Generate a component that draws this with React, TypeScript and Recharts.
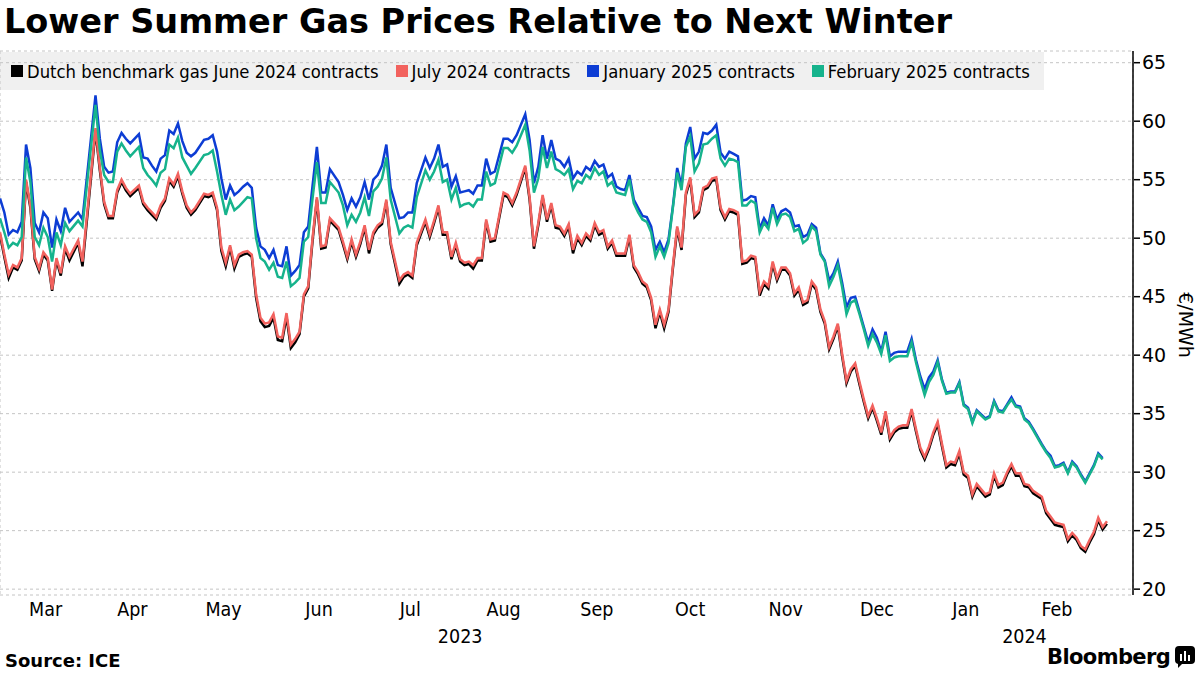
import { LineChart, Line, XAxis, YAxis, CartesianGrid } from 'recharts';

// trading-day index since 3 Mar 2023
const days = [
  0, 1, 2, 3, 4, 5, 6, 7, 8, 9,
  10, 11, 12, 13, 14, 15, 16, 18, 19, 22,
  23, 24, 25, 26, 27, 28, 29, 30, 32, 33,
  34, 35, 36, 37, 38, 39, 40, 41, 42, 43,
  44, 45, 47, 48, 49, 50, 51, 52, 53, 54,
  55, 56, 57, 58, 59, 60, 61, 62, 63, 64,
  65, 66, 67, 68, 69, 70, 71, 72, 73, 74,
  75, 76, 78, 79, 80, 81, 82, 83, 84, 85,
  86, 87, 88, 89, 90, 92, 93, 94, 95, 96,
  98, 99, 100, 101, 102, 103, 104, 105, 106, 107,
  108, 109, 110, 111, 112, 113, 114, 116, 117, 118,
  119, 121, 122, 123, 124, 125, 126, 127, 128, 129,
  130, 131, 132, 133, 134, 135, 136, 137, 138, 139,
  140, 141, 142, 143, 144, 145, 146, 147, 148, 149,
  150, 151, 152, 153, 154, 155, 156, 157, 158, 159,
  160, 161, 162, 163, 164, 165, 166, 167, 168, 169,
  170, 171, 172, 173, 174, 175, 176, 177, 178, 179,
  180, 181, 182, 183, 184, 185, 186, 187, 188, 189,
  190, 191, 192, 193, 194, 195, 196, 197, 198, 199,
  200, 201, 202, 203, 204, 205, 206, 207, 208, 209,
  210, 211, 212, 213, 214, 215, 216, 217, 218, 219,
  220, 221, 222, 223, 224, 225, 227, 228, 229, 230,
  231, 232, 233, 234, 235, 236, 237, 238, 240, 241,
  242, 243, 244, 245, 246, 247, 248, 249, 250, 251,
  252, 253, 254, 255,
];

const june24 = [
  50.3, 48.4, 46.6, 47.5, 47.3, 48.1, 54.8, 52.6, 48.2, 47.2,
  48.6, 48.1, 45.5, 48.1, 46.8, 49.1, 48.1, 49.6, 47.6, 59.2,
  55.8, 52.9, 51.7, 51.7, 53.9, 54.8, 54.1, 53.6, 54.3, 52.9,
  52.4, 52.0, 51.6, 52.6, 53.2, 54.9, 54.4, 55.3, 53.8, 52.6,
  52.0, 52.4, 53.6, 53.5, 53.7, 52.4, 48.9, 47.6, 49.2, 47.4,
  48.4, 48.6, 48.7, 48.4, 44.9, 42.9, 42.4, 42.5, 43.2, 41.3,
  41.2, 43.3, 40.6, 41.1, 41.8, 45.0, 45.7, 49.8, 53.3, 49.1,
  49.2, 51.5, 50.7, 49.5, 48.2, 49.7, 48.4, 49.5, 50.9, 48.7,
  50.3, 50.9, 51.2, 53.1, 49.5, 46.1, 46.7, 46.9, 46.6, 49.4,
  51.4, 50.1, 51.3, 52.6, 50.3, 50.3, 48.2, 49.4, 48.0, 47.7,
  47.8, 47.4, 48.1, 48.1, 51.4, 49.7, 49.8, 53.7, 53.5, 52.8,
  53.7, 56.0, 53.3, 49.1, 51.1, 53.5, 51.4, 52.8, 50.9, 50.8,
  50.2, 51.0, 48.7, 50.0, 49.4, 50.2, 49.8, 51.1, 50.3, 50.5,
  49.1, 49.6, 48.5, 48.5, 48.5, 50.1, 47.5, 46.9, 46.1, 45.8,
  44.7, 42.3, 43.7, 42.3, 43.7, 47.4, 50.8, 49.0, 53.7, 55.0,
  51.8, 52.2, 54.1, 54.3, 54.9, 55.0, 52.4, 51.6, 52.3, 52.2,
  52.0, 47.8, 47.9, 48.3, 48.2, 45.1, 46.1, 45.7, 47.8, 46.4,
  47.3, 47.3, 46.8, 45.1, 45.6, 44.3, 44.5, 46.1, 45.6, 43.7,
  42.7, 40.5, 41.4, 42.5, 39.9, 37.6, 38.6, 39.1, 37.5, 36.0,
  34.6, 35.5, 34.4, 33.2, 35.0, 32.8, 33.4, 33.7, 33.8, 33.8,
  35.2, 33.5, 31.9, 31.1, 32.0, 33.2, 34.1, 32.2, 30.4, 30.7,
  30.6, 31.6, 29.8, 29.5, 27.9, 28.8, 27.9, 28.1, 29.7, 28.7,
  28.9, 29.8, 30.5, 29.7, 29.7, 28.8, 28.7, 28.2, 27.7, 26.5,
  26.0, 25.5, 25.4, 25.3, 24.1, 24.6, 24.2, 23.5, 23.2, 24.0,
  24.7, 25.9, 25.1, 25.6,
];

const july24 = [
  50.5, 48.6, 46.9, 47.7, 47.5, 48.3, 55.0, 52.8, 48.4, 47.4,
  48.8, 48.3, 45.6, 48.3, 47.0, 49.3, 48.4, 49.8, 48.0, 59.4,
  56.0, 53.1, 51.9, 51.9, 54.1, 55.0, 54.3, 53.8, 54.5, 53.1,
  52.6, 52.2, 51.8, 52.8, 53.4, 55.1, 54.6, 55.5, 54.0, 52.8,
  52.2, 52.6, 53.8, 53.7, 53.9, 52.6, 49.2, 47.9, 49.4, 47.7,
  48.6, 48.8, 48.9, 48.6, 45.2, 43.2, 42.7, 42.8, 43.5, 41.6,
  41.5, 43.6, 40.9, 41.4, 42.0, 45.2, 45.9, 50.0, 53.5, 49.3,
  49.4, 51.7, 50.9, 49.7, 48.4, 49.9, 48.6, 49.7, 51.1, 49.0,
  50.5, 51.1, 51.4, 53.3, 49.7, 46.4, 46.9, 47.1, 46.8, 49.6,
  51.6, 50.3, 51.5, 52.8, 50.5, 50.5, 48.4, 49.6, 48.2, 47.9,
  48.0, 47.7, 48.3, 48.3, 51.6, 49.9, 50.0, 53.9, 53.7, 53.0,
  53.9, 56.2, 53.5, 49.3, 51.3, 53.7, 51.6, 53.0, 51.1, 51.0,
  50.4, 51.2, 49.0, 50.2, 49.6, 50.4, 50.0, 51.3, 50.5, 50.7,
  49.3, 49.8, 48.7, 48.7, 48.7, 50.3, 47.7, 47.1, 46.3, 46.0,
  44.9, 42.6, 43.9, 42.6, 43.9, 47.6, 51.0, 49.2, 53.9, 55.2,
  52.0, 52.4, 54.3, 54.5, 55.1, 55.2, 52.6, 51.8, 52.5, 52.4,
  52.2, 48.0, 48.1, 48.5, 48.4, 45.4, 46.3, 45.9, 48.0, 46.6,
  47.5, 47.5, 47.0, 45.3, 45.8, 44.5, 44.7, 46.3, 45.8, 43.9,
  42.9, 40.7, 41.6, 42.7, 40.1, 37.8, 38.8, 39.3, 37.7, 36.2,
  34.8, 35.7, 34.6, 33.4, 35.2, 33.0, 33.6, 33.9, 34.0, 34.0,
  35.4, 33.7, 32.1, 31.3, 32.2, 33.4, 34.3, 32.4, 30.6, 30.9,
  30.8, 31.8, 30.0, 29.7, 28.1, 29.0, 28.1, 28.3, 29.9, 28.9,
  29.1, 30.0, 30.7, 29.9, 29.9, 29.0, 28.9, 28.4, 27.9, 26.7,
  26.2, 25.7, 25.6, 25.5, 24.3, 24.8, 24.4, 23.7, 23.4, 24.2,
  24.9, 26.1, 25.3, 25.8,
];

const jan25 = [
  53.4, 52.2, 50.3, 50.7, 50.5, 51.4, 58.0, 56.0, 51.3, 50.5,
  52.2, 51.7, 49.2, 51.6, 50.6, 52.6, 51.4, 52.2, 51.6, 62.2,
  58.5, 56.1, 55.6, 55.7, 58.2, 59.0, 58.5, 58.1, 58.9, 56.9,
  56.8, 56.2, 55.7, 56.8, 57.1, 59.2, 58.9, 59.8, 58.3, 57.3,
  57.0, 57.3, 58.4, 58.5, 58.8, 57.4, 55.1, 53.3, 54.5, 53.7,
  54.0, 54.4, 54.7, 54.3, 50.9, 49.3, 49.0, 48.3, 49.0, 47.7,
  47.6, 49.3, 46.8, 47.2, 47.7, 50.5, 51.0, 54.5, 57.8, 53.9,
  53.9, 55.9, 54.8, 53.7, 52.4, 53.4, 52.7, 53.5, 54.8, 53.3,
  55.0, 55.4, 56.2, 58.0, 54.3, 51.7, 51.8, 52.2, 52.2, 54.7,
  56.9, 56.0, 56.8, 58.0, 56.1, 56.3, 54.4, 55.3, 53.9, 54.0,
  54.1, 53.8, 54.5, 54.5, 56.8, 55.5, 55.7, 58.5, 58.5, 58.2,
  58.8, 60.6, 58.4, 54.7, 56.1, 58.8, 56.8, 58.4, 56.8, 56.6,
  56.1, 56.8, 55.1, 55.7, 55.4, 56.1, 55.8, 56.6, 56.1, 56.3,
  55.2, 55.5, 54.4, 54.2, 54.1, 55.4, 53.3, 52.6, 51.9, 51.8,
  51.0, 49.0, 49.7, 48.8, 49.9, 52.7, 56.0, 54.5, 58.1, 59.5,
  56.8, 57.4, 59.0, 58.9, 59.2, 59.7, 57.3, 56.8, 57.4, 57.2,
  57.0, 53.2, 53.3, 53.6, 53.5, 50.8, 51.7, 51.1, 52.9, 51.6,
  52.3, 52.5, 52.2, 51.0, 51.1, 50.1, 50.3, 51.2, 50.9, 48.7,
  48.1, 46.4, 47.0, 48.0, 46.2, 44.1, 44.9, 45.0, 43.7, 42.4,
  41.1, 42.2, 41.5, 40.3, 42.0, 39.9, 40.2, 40.3, 40.3, 40.3,
  41.4, 39.6, 38.2, 37.1, 38.1, 38.6, 39.6, 37.9, 36.8, 36.9,
  36.9, 37.7, 35.8, 35.5, 34.3, 35.3, 34.6, 34.8, 36.1, 35.3,
  35.2, 35.8, 36.4, 35.7, 35.6, 34.6, 34.3, 33.7, 32.4, 31.8,
  31.4, 30.5, 30.6, 30.8, 30.0, 30.9, 30.5, 29.8, 29.2, 29.9,
  30.6, 31.6, 31.2, null,
];

const feb25 = [
  51.7, 50.5, 49.2, 49.6, 49.4, 50.1, 56.9, 54.8, 50.1, 49.4,
  50.9, 50.1, 48.0, 50.5, 49.4, 51.3, 50.6, 51.5, 51.0, 61.4,
  57.5, 55.4, 54.8, 54.8, 57.4, 58.1, 57.5, 57.0, 57.8, 56.0,
  55.4, 55.0, 54.5, 55.6, 55.9, 58.0, 57.7, 58.6, 56.9, 56.2,
  55.5, 56.0, 57.1, 57.2, 57.5, 55.7, 53.7, 52.0, 53.3, 52.4,
  52.7, 53.1, 53.5, 53.4, 50.0, 48.3, 48.0, 47.3, 47.9, 46.7,
  46.6, 48.0, 45.9, 46.2, 46.6, 49.7, 50.1, 53.4, 56.5, 53.0,
  53.0, 54.8, 53.9, 52.8, 51.1, 52.0, 51.4, 52.2, 53.5, 51.9,
  54.0, 54.4, 55.1, 56.9, 53.3, 50.4, 50.9, 51.1, 50.9, 53.5,
  55.8, 55.0, 55.7, 56.7, 54.8, 55.0, 53.3, 54.3, 52.7, 52.9,
  53.0, 52.7, 53.3, 53.3, 55.7, 54.5, 54.7, 57.7, 57.7, 57.3,
  57.9, 59.7, 57.5, 53.9, 55.1, 57.8, 56.0, 57.4, 55.9, 55.7,
  55.4, 55.9, 54.2, 54.9, 54.7, 55.4, 55.1, 56.0, 55.4, 55.7,
  54.5, 54.8, 53.9, 53.8, 53.7, 55.0, 53.0, 52.2, 51.6, 51.4,
  50.5, 48.4, 49.3, 48.4, 49.6, 52.6, 55.6, 54.1, 57.8, 58.7,
  55.7, 56.4, 58.0, 58.1, 58.5, 58.8, 56.8, 56.2, 56.8, 56.7,
  56.5, 52.8, 52.8, 53.2, 53.0, 50.5, 51.3, 50.8, 52.6, 51.2,
  52.0, 52.1, 51.8, 50.6, 50.8, 49.6, 49.9, 51.0, 50.6, 48.6,
  48.0, 45.9, 46.7, 47.7, 45.8, 43.5, 44.5, 44.7, 43.5, 42.2,
  40.8, 41.8, 41.1, 40.1, 41.7, 39.5, 39.8, 39.9, 39.9, 39.9,
  41.1, 39.4, 37.9, 36.6, 37.7, 38.3, 39.4, 37.8, 36.7, 36.8,
  36.8, 37.6, 35.7, 35.4, 34.2, 35.2, 34.5, 34.7, 36.0, 35.2,
  35.1, 35.7, 36.2, 35.6, 35.5, 34.5, 34.2, 33.6, 32.3, 31.7,
  31.2, 30.4, 30.5, 30.7, 29.9, 30.8, 30.4, 29.7, 29.1, 29.8,
  30.5, 31.5, 31.1, null,
];

// first trading day of each month, Apr 2023 .. Mar 2024
const monthStarts = [21, 40, 63, 84, 105, 127, 148, 170, 192, 212, 233, 254];
const monthNames = ['Mar', 'Apr', 'May', 'Jun', 'Jul', 'Aug', 'Sep', 'Oct', 'Nov', 'Dec', 'Jan', 'Feb'];
const yearLabels = ['2023', '2024'];
const yearAt = [106, 236];

const yTicks = [20, 25, 30, 35, 40, 45, 50, 55, 60, 65];
const yMinor = [22.5, 27.5, 32.5, 37.5, 42.5, 47.5, 52.5, 57.5, 62.5];

const SERIES = [
  { key: 'june', name: 'Dutch benchmark gas June 2024 contracts', color: '#000000' },
  { key: 'july', name: 'July 2024 contracts', color: '#F2625E' },
  { key: 'jan', name: 'January 2025 contracts', color: '#0D3DD4' },
  { key: 'feb', name: 'February 2025 contracts', color: '#16B38C' },
];

const FONT = '"DejaVu Sans", "Noto Sans", sans-serif';

const rows = days.map((d, k) => ({
  d,
  june: june24[k],
  july: july24[k],
  jan: jan25[k],
  feb: feb25[k],
}));

const starts = [0, ...monthStarts];
const monthMid = monthNames.map((_, k) => (starts[k] + starts[k + 1]) / 2);
const labelTicks = [...monthMid, ...yearAt];

function TimeTick(props: any) {
  const { x, y, payload } = props;
  const v = payload.value;
  const yi = yearAt.indexOf(v);
  const common = {
    x,
    textAnchor: 'middle' as const,
    fontSize: 19.5,
    fill: '#000',
    fontFamily: FONT,
    style: { fontStretch: 'condensed' },
  };
  if (yi >= 0) {
    return <text {...common} y={y + 40}>{yearLabels[yi]}</text>;
  }
  return <text {...common} y={y + 13}>{monthNames[monthMid.indexOf(v)]}</text>;
}

function LegendBox() {
  return (
    <div
      style={{
        position: 'absolute',
        left: 0,
        top: 52,
        width: 1044,
        height: 38,
        background: '#f0f0f0',
        display: 'flex',
        alignItems: 'center',
        paddingLeft: 11,
        boxSizing: 'border-box',
        gap: 17,
        fontFamily: FONT,
        fontStretch: 'condensed',
        fontSize: 18.3,
        color: '#000',
      }}
    >
      {SERIES.map((s) => (
        <div key={s.key} style={{ display: 'flex', alignItems: 'center', gap: 4 }}>
          <div style={{ width: 12, height: 12, background: s.color }} />
          <span>{s.name}</span>
        </div>
      ))}
    </div>
  );
}

export default function App() {
  return (
    <div style={{ position: 'relative', width: 1200, height: 675, background: '#fff', overflow: 'hidden' }}>
      <style>{'body{margin:0}'}</style>
      <div
        style={{
          position: 'absolute',
          left: 4,
          top: 2,
          fontFamily: FONT,
          fontWeight: 'bold',
          fontSize: 33.5,
          color: '#000',
          whiteSpace: 'nowrap',
        }}
      >
        Lower Summer Gas Prices Relative to Next Winter
      </div>
      <LegendBox />
      <div style={{ position: 'absolute', left: 0, top: 0 }}>
        <LineChart width={1200} height={675} data={rows} margin={{ top: 51, right: 0, bottom: 0, left: 0 }}>
          <CartesianGrid xAxisId="grid" yAxisId="val" stroke="#c4c4c4" strokeDasharray="3 3" />
          <XAxis
            xAxisId="grid"
            dataKey="d"
            type="number"
            domain={[0, 261]}
            ticks={monthStarts}
            tick={false}
            axisLine={false}
            tickLine={false}
            height={0}
          />
          <XAxis
            xAxisId="lab"
            dataKey="d"
            type="number"
            domain={[0, 261]}
            ticks={labelTicks}
            interval={0}
            tick={<TimeTick />}
            axisLine={false}
            tickLine={false}
            height={80}
          />
          <YAxis
            yAxisId="minor"
            orientation="right"
            type="number"
            domain={[19.5, 66]}
            ticks={yMinor}
            tick={() => <g />}
            tickSize={4}
            tickLine={{ stroke: '#000' }}
            axisLine={{ stroke: '#000', strokeWidth: 1.5 }}
            width={1}
          />
          <YAxis
            yAxisId="val"
            orientation="right"
            type="number"
            domain={[19.5, 66]}
            ticks={yTicks}
            interval={0}
            tickSize={6}
            tickMargin={2}
            tickLine={{ stroke: '#000', strokeWidth: 1.5 }}
            axisLine={false}
            tick={{ fontSize: 19, fill: '#000', fontFamily: FONT }}
            width={66}
          />
          {SERIES.map((s) => (
            <Line
              key={s.key}
              xAxisId="grid"
              yAxisId="val"
              type="linear"
              dataKey={s.key}
              stroke={s.color}
              strokeWidth={2.5}
              dot={false}
              isAnimationActive={false}
            />
          ))}
        </LineChart>
      </div>
      <div
        style={{
          position: 'absolute',
          left: 1186,
          top: 325,
          transform: 'translate(-50%, -50%) rotate(90deg)',
          fontFamily: FONT,
          fontSize: 19,
          color: '#000',
          whiteSpace: 'nowrap',
        }}
      >
        €/MWh
      </div>
      <div
        style={{
          position: 'absolute',
          left: 5,
          top: 650,
          fontFamily: FONT,
          fontWeight: 'bold',
          fontSize: 18,
          color: '#000',
        }}
      >
        Source: ICE
      </div>
      <div
        style={{
          position: 'absolute',
          left: 1047,
          top: 645,
          display: 'flex',
          alignItems: 'center',
          gap: 5,
          fontFamily: FONT,
          fontWeight: 'bold',
          fontSize: 21,
          letterSpacing: -0.6,
          color: '#000',
        }}
      >
        <span>Bloomberg</span>
        <svg width={20} height={22} viewBox="0 0 20 22">
          <rect x={0} y={0} width={20} height={18} rx={4} fill="#000" />
          <path d="M3 17 L3 22 L8 17 Z" fill="#000" />
          <rect x={5} y={8} width={2} height={7} fill="#fff" />
          <rect x={9} y={5} width={2} height={10} fill="#fff" />
          <rect x={13} y={9} width={2} height={6} fill="#fff" />
        </svg>
      </div>
    </div>
  );
}
